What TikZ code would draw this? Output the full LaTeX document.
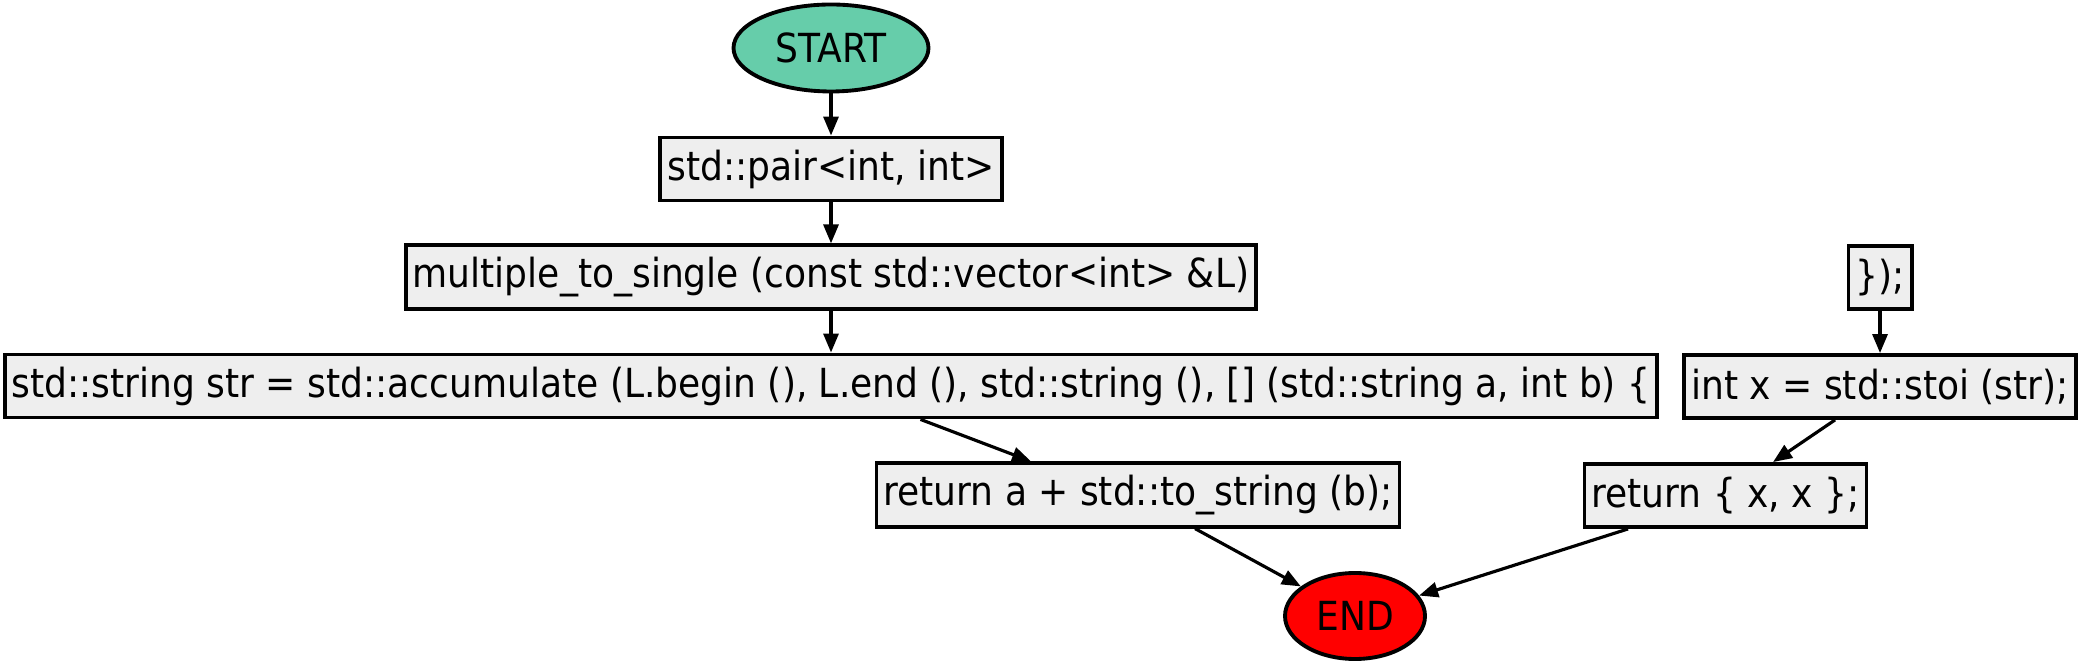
\documentclass[tikz,border=0pt]{standalone}
\usepackage{fontspec}
\setmainfont{DejaVu Sans Condensed}
\usepackage{tikz}
\usetikzlibrary{arrows.meta,shapes.geometric}

\definecolor{termgreen}{HTML}{66CDAA}
\definecolor{stmtgray}{HTML}{EEEEEE}

\begin{document}
\begin{tikzpicture}[
        stmt/.style={draw, line width=1.1pt, fill=stmtgray, minimum height=0.63cm,
          inner xsep=0.07cm, font=\fontsize{11.4}{13}\selectfont},
        term/.style={draw, ellipse, line width=1.1pt, inner sep=0pt,
          font=\fontsize{11.4}{13}\selectfont},
        flow/.style={-{Triangle[length=0.19cm, width=0.15cm]}, line width=0.9pt},
        ]
        \useasboundingbox (0,0) rectangle (20.85,-6.65);

        \node[term, fill=termgreen, minimum width=1.95cm, minimum height=0.87cm] (start) at (8.31,-0.48) {START};
        \node[stmt] (pair) at (8.31,-1.69) {std::pair<int, int>};
        \node[stmt] (mts) at (8.31,-2.77) {multiple\_to\_single (const std::vector<int> \&L)};
        \node[stmt] (strline) at (8.31,-3.86) {std::string str = std::accumulate (L.begin (), L.end (), std::string (), [] (std::string a, int b) \{};
        \node[stmt] (retA) at (11.38,-4.95) {return a + std::to\_string (b);};
        \node[term, fill=red, minimum width=1.4cm, minimum height=0.86cm] (endn) at (13.55,-6.16) {END};

        \node[stmt] (close) at (18.8,-2.775) {\});};
        \node[stmt] (intx) at (18.8,-3.865) {int x = std::stoi (str);};
        \node[stmt] (retx) at (17.255,-4.955) {return \{ x, x \};};

        \draw[flow] (start) -- (pair);
        \draw[flow] (pair) -- (mts);
        \draw[flow] (mts) -- (strline);
        \draw[flow] ([xshift=0.895cm]strline.south) -- ([xshift=-1.07cm]retA.north);
        \draw[flow] ([xshift=0.57cm]retA.south) -- (endn);
        \draw[flow] (close) -- (intx);
        \draw[flow] ([xshift=-0.45cm]intx.south) -- ([xshift=0.475cm]retx.north);
        \draw[flow] ([xshift=-0.975cm]retx.south) -- (endn);
    \end{tikzpicture}
\end{document}
